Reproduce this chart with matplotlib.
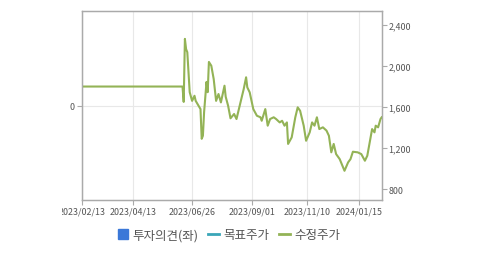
import matplotlib
matplotlib.use("Agg")
import matplotlib.pyplot as plt
from matplotlib.lines import Line2D
from matplotlib.transforms import Bbox, TransformedBbox

plt.rcParams['font.family'] = ['Noto Sans CJK KR', 'DejaVu Sans']

# trading-day index and adjusted price (수정주가)
day_idx = [0, 84, 85, 86, 87, 88, 90, 92, 94, 95, 99, 100, 101, 102, 104, 105,
           106, 108, 110, 112, 114, 116, 119, 120, 122, 124, 127, 129, 130, 133,
           135, 137, 138, 140, 143, 146, 149, 150, 153, 155, 157, 160, 162, 165,
           167, 169, 171, 172, 175, 178, 180, 182, 185, 187, 190, 192, 194, 196,
           198, 201, 204, 206, 208, 210, 212, 215, 219, 222, 224, 226, 230, 233,
           236, 238, 240, 242, 244, 245, 247, 249, 250]
price = [1800, 1800, 1650, 2265, 2165, 2135, 1745, 1660, 1710, 1660, 1580, 1290,
         1320, 1550, 1845, 1745, 2040, 2003, 1873, 1660, 1727, 1645, 1808, 1700,
         1613, 1490, 1532, 1483, 1532, 1678, 1775, 1890, 1792, 1743, 1580, 1515,
         1500, 1466, 1580, 1418, 1483, 1500, 1483, 1450, 1466, 1418, 1450, 1240,
         1304, 1500, 1597, 1564, 1418, 1271, 1353, 1450, 1418, 1500, 1385, 1402,
         1370, 1320, 1158, 1240, 1141, 1092, 978, 1060, 1092, 1164, 1158, 1141,
         1076, 1125, 1255, 1385, 1353, 1418, 1402, 1483, 1500]

date_tick_idx = [0, 43, 92, 142, 188, 231]
date_tick_labels = ['2023/02/13', '2023/04/13', '2023/06/26', '2023/09/01',
                    '2023/11/10', '2024/01/15']
price_ticks = [800, 1200, 1600, 2000, 2400]
opinion_ticks = [0]
legend_labels = ['투자의견(좌)', '목표주가', '수정주가']

W, H = 479, 255
fig = plt.figure(figsize=(W / 100, H / 100), dpi=100)
L, R, T, B = 81.7, 381.7, 12.3, 201.0
ax = fig.add_axes([L / W, 1 - B / H, (R - L) / W, (B - T) / H])
ax2 = ax.twinx()

spine_c = '#aaaaaa'
grid_c = '#e8e8e8'
txt_c = '#555555'

ax.set_xlim(0, 250)
ax.set_ylim(-1, 1)
ax.set_yticks(opinion_ticks)
ax.set_yticklabels([str(v) for v in opinion_ticks])
ax.set_xticks(date_tick_idx)
ax.set_xticklabels(date_tick_labels)
ax.grid(True, color=grid_c, linewidth=0.8)
ax.set_axisbelow(True)

ax2.plot(day_idx, price, color='#93b356', linewidth=1.5, solid_joinstyle='round')
ax2.set_ylim(693, 2534)
ax2.set_yticks(price_ticks)
ax2.set_yticklabels([f'{v:,}' for v in price_ticks])

for a in (ax, ax2):
    for s in a.spines.values():
        s.set_color(spine_c)
        s.set_linewidth(0.9)
    a.tick_params(colors=spine_c, labelcolor=txt_c, labelsize=6.4, length=3.5,
                  width=0.8, pad=1.5)

# clip first date label like the reference
clip = TransformedBbox(Bbox([[61.8 / W, 0], [1, 1]]), fig.transFigure)
first = ax.get_xticklabels()[0]
first.set_clip_box(clip)
first.set_clip_on(True)

handles = [
    Line2D([], [], marker='s', linestyle='none', color='#3b78d8', markersize=6.8),
    Line2D([], [], color='#3aa6b8', linewidth=2),
    Line2D([], [], color='#93b356', linewidth=2),
]
leg = ax.legend(handles, legend_labels, loc='center', bbox_to_anchor=(0.49, -0.183),
                ncol=3, frameon=False, fontsize=9, handlelength=0.95,
                handletextpad=0.35, columnspacing=0.7, labelcolor=txt_c)
leg.set_zorder(10)

fig.savefig('out.png', dpi=100)
